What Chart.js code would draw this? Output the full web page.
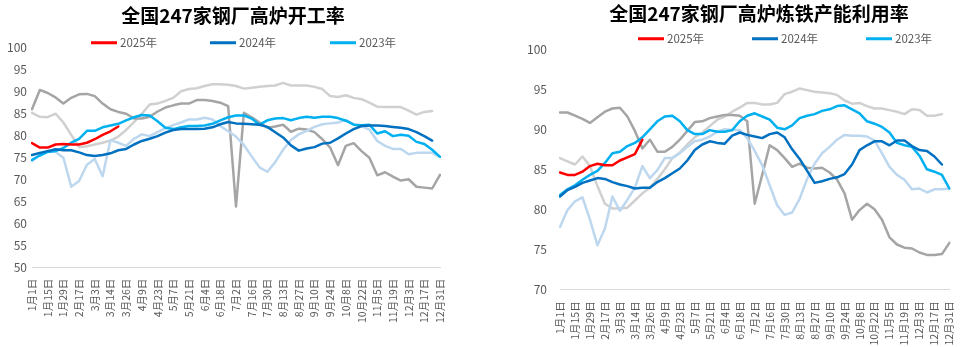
<!DOCTYPE html>
<html lang="zh-CN">
<head>
<meta charset="utf-8">
<title>全国247家钢厂高炉开工率 / 高炉炼铁产能利用率</title>
<script src="https://cdn.jsdelivr.net/npm/chart.js@4.4.1/dist/chart.umd.min.js"></script>
<style>
html,body{margin:0;padding:0;background:#fff;}
body{width:974px;height:347px;position:relative;overflow:hidden;font-family:"Noto Sans CJK SC","Noto Sans",sans-serif;}
.panel{position:absolute;top:0;width:487px;height:347px;}
#p1{left:0}
#p2{left:487px}
.panel canvas{position:absolute;left:0;top:0;}
.title{position:absolute;transform:translate(-50%,-50%);font-size:19px;font-weight:700;color:#000;white-space:nowrap;line-height:1;}
.leg{position:absolute;transform:translateY(-50%);display:flex;align-items:center;font-size:11.5px;color:#595959;white-space:nowrap;line-height:1;}
.leg i{display:inline-block;width:26px;height:3px;margin-right:3px;}
</style>
</head>
<body>
<div class="panel" id="p1">
  <canvas id="c1" width="487" height="347"></canvas>
  <div class="title" style="left:233px;top:14px">全国247家钢厂高炉开工率</div>
</div>
<div class="panel" id="p2">
  <canvas id="c2" width="487" height="347"></canvas>
  <div class="title" style="left:272px;top:12px">全国247家钢厂高炉炼铁产能利用率</div>
</div>
<script>
// ---------- tick labels (one every second weekly point) ----------
const tickLabels = ['1月1日','1月15日','1月29日','2月17日','3月3日','3月14日','3月26日','4月9日','4月23日','5月7日','5月21日','6月4日','6月18日','7月2日','7月16日','7月30日','8月13日','8月27日','9月10日','9月24日','10月8日','10月22日','11月5日','11月19日','12月3日','12月17日','12月31日'];

const seriesNames = ['2025年','2024年','2023年','2022年','2021年','2020年'];

// ---------- 高炉开工率 (%) ----------
const kg2025 = [78.3, 77.3, 77.3, 78.0, 78.1, 78.0, 78.0, 78.4, 79.2, 80.2, 81.0, 82.1];
const kg2024 = [75.6, 76.1, 76.5, 76.9, 76.7, 76.7, 76.2, 75.6, 75.4, 75.6, 76.0, 76.7, 77.0, 78.0, 78.8, 79.3, 79.9, 80.7, 81.3, 81.5, 81.5, 81.5, 81.6, 81.9, 82.6, 83.1, 82.8, 82.7, 82.6, 82.5, 82.0, 80.8, 79.6, 77.8, 76.6, 77.1, 77.4, 78.2, 78.4, 79.4, 80.5, 81.5, 82.2, 82.3, 82.3, 82.2, 82.0, 81.8, 81.5, 80.8, 79.9, 78.9];
const kg2023 = [74.5, 75.5, 76.3, 76.5, 77.2, 78.4, 79.3, 81.1, 81.1, 81.9, 82.3, 82.7, 83.5, 84.2, 84.7, 84.6, 83.3, 81.8, 81.5, 81.9, 82.2, 82.2, 82.3, 82.7, 83.5, 84.2, 84.6, 84.6, 83.9, 82.5, 83.5, 83.9, 84.0, 83.5, 84.0, 84.3, 84.1, 84.3, 84.3, 84.0, 83.4, 82.5, 82.4, 82.5, 80.5, 81.0, 79.9, 80.2, 80.0, 78.6, 78.1, 76.8, 75.2];
const kg2022 = [74.2, 75.8, 76.6, 76.3, 75.0, 68.4, 69.7, 73.4, 74.7, 70.8, 79.0, 78.4, 77.7, 79.3, 80.3, 79.9, 80.8, 81.7, 82.4, 83.0, 83.7, 83.7, 84.1, 83.7, 82.2, 81.0, 79.8, 77.9, 75.3, 72.8, 71.8, 74.0, 76.8, 79.0, 80.3, 81.1, 82.0, 82.6, 82.8, 83.0, 83.6, 82.6, 82.2, 81.4, 78.8, 77.7, 77.0, 77.0, 75.8, 76.1, 76.1, 76.1, 75.2];
const kg2021 = [86.0, 90.4, 89.7, 88.7, 87.3, 88.6, 89.4, 89.5, 89.0, 87.3, 86.0, 85.4, 85.0, 83.9, 83.9, 84.3, 85.5, 86.4, 86.9, 87.3, 87.3, 88.1, 88.1, 87.9, 87.5, 86.7, 63.9, 85.2, 84.2, 83.0, 81.8, 82.1, 82.5, 80.9, 81.6, 81.4, 80.8, 79.2, 77.3, 73.3, 77.7, 78.3, 76.5, 75.0, 71.0, 71.7, 70.7, 69.8, 70.1, 68.4, 68.2, 68.0, 71.1];
const kg2020 = [85.2, 84.3, 84.2, 85.0, 83.0, 80.2, 77.4, 77.6, 78.0, 78.4, 78.9, 79.8, 81.3, 83.1, 85.0, 87.1, 87.3, 87.9, 88.6, 90.1, 90.6, 90.8, 91.3, 91.7, 91.7, 91.6, 91.3, 90.7, 90.9, 91.1, 91.3, 91.4, 92.0, 91.4, 91.4, 91.4, 91.1, 90.6, 89.0, 88.8, 89.2, 88.6, 88.3, 87.5, 86.6, 86.5, 86.5, 86.5, 85.7, 84.8, 85.4, 85.6];

// ---------- 高炉炼铁产能利用率 (%) ----------
const ly2025 = [84.6, 84.3, 84.3, 84.7, 85.4, 85.7, 85.5, 85.5, 86.1, 86.5, 86.9, 88.7];
const ly2024 = [81.6, 82.4, 82.8, 83.3, 83.6, 83.9, 83.8, 83.4, 83.1, 82.9, 82.6, 82.7, 82.7, 83.4, 83.9, 84.5, 85.1, 86.1, 87.4, 88.1, 88.5, 88.3, 88.2, 89.2, 89.6, 89.3, 89.1, 88.9, 89.4, 89.6, 89.0, 87.5, 86.3, 84.8, 83.3, 83.5, 83.8, 84.0, 84.4, 85.6, 87.4, 88.0, 88.5, 88.5, 88.0, 88.6, 88.6, 87.9, 87.4, 87.3, 86.6, 85.6];
const ly2023 = [81.8, 82.5, 83.0, 83.7, 84.3, 84.8, 85.8, 87.0, 87.2, 87.9, 88.3, 89.0, 90.0, 91.0, 91.6, 91.7, 91.0, 89.9, 89.4, 89.4, 89.9, 89.7, 89.7, 89.9, 91.0, 91.7, 92.0, 91.6, 91.2, 90.2, 90.0, 90.5, 91.4, 91.7, 91.9, 92.3, 92.5, 92.9, 93.0, 92.5, 92.0, 91.0, 90.7, 90.3, 89.6, 88.3, 88.0, 87.8, 86.7, 85.0, 84.7, 84.3, 82.6];
const ly2022 = [77.8, 79.9, 81.0, 81.5, 78.7, 75.5, 77.6, 81.6, 79.8, 81.2, 82.7, 85.4, 83.9, 84.9, 86.4, 86.4, 87.0, 87.8, 88.5, 88.7, 89.1, 89.7, 90.0, 89.9, 89.9, 88.9, 87.3, 85.5, 83.0, 80.5, 79.3, 79.6, 81.3, 83.8, 85.7, 87.0, 87.8, 88.7, 89.3, 89.2, 89.2, 89.1, 88.6, 87.0, 85.3, 84.3, 83.7, 82.5, 82.6, 82.1, 82.5, 82.5, 82.6];
const ly2021 = [92.1, 92.1, 91.7, 91.3, 90.8, 91.5, 92.2, 92.6, 92.7, 91.6, 89.8, 87.6, 88.7, 87.2, 87.2, 87.8, 88.7, 89.8, 90.9, 91.0, 91.4, 91.6, 91.8, 91.8, 91.7, 91.0, 80.7, 84.3, 88.0, 87.4, 86.4, 85.3, 85.7, 85.2, 85.1, 85.2, 84.6, 83.7, 82.0, 78.7, 79.9, 80.7, 80.0, 78.7, 76.5, 75.6, 75.2, 75.1, 74.6, 74.3, 74.3, 74.4, 75.8];
const ly2020 = [86.4, 86.0, 85.6, 86.6, 85.4, 82.9, 80.7, 80.1, 80.1, 80.2, 81.1, 82.0, 82.7, 83.8, 85.0, 86.4, 87.1, 88.1, 89.0, 89.6, 90.4, 91.2, 91.6, 92.2, 92.7, 93.3, 93.3, 93.1, 93.1, 93.3, 94.4, 94.7, 95.1, 94.9, 94.7, 94.6, 94.5, 94.3, 93.6, 93.2, 93.3, 92.9, 92.6, 92.6, 92.4, 92.2, 91.9, 92.5, 92.4, 91.7, 91.7, 91.9];

const seriesColors = ['#FF0000', '#0070C0', '#00B0F0', '#BDD7EE', '#A5A5A5', '#D0D0D0'];
const legendCount = 3;

// weekly categories: a tick label on every second week
const categories = [];
for (let k = 0; k < tickLabels.length; k++) {
  categories.push(tickLabels[k]);
  if (k < tickLabels.length - 1) categories.push('');
}

const FONT = '"Noto Sans CJK SC", "Noto Sans", sans-serif';

function addLegend(panel, xs, y) {
  for (let i = 0; i < legendCount; i++) {
    const d = document.createElement('div');
    d.className = 'leg';
    d.style.left = xs[i] + 'px';
    d.style.top = y + 'px';
    const sw = document.createElement('i');
    sw.style.background = seriesColors[i];
    d.appendChild(sw);
    d.appendChild(document.createTextNode(seriesNames[i]));
    panel.appendChild(d);
  }
}

function makeChart(canvasId, seriesData, yMin, yMax, geo) {
  const datasets = seriesData.map((arr, i) => ({
    label: seriesNames[i],
    data: arr,
    borderColor: seriesColors[i],
    backgroundColor: seriesColors[i],
    borderWidth: 2.5,
    pointRadius: 0,
    pointHoverRadius: 0,
    tension: 0,
    fill: false,
    borderJoinStyle: 'round',
    borderCapStyle: 'round'
  }));
  return new Chart(document.getElementById(canvasId), {
    type: 'line',
    data: { labels: categories, datasets },
    options: {
      responsive: false,
      animation: false,
      devicePixelRatio: 1,
      events: [],
      layout: { padding: { left: 0, top: geo.top, right: geo.right, bottom: 0 } },
      plugins: { legend: { display: false }, title: { display: false }, tooltip: { enabled: false } },
      scales: {
        x: {
          type: 'category',
          offset: false,
          grid: { display: false, drawTicks: false },
          border: { display: true, color: '#D9D9D9', width: 1 },
          ticks: { autoSkip: false, maxRotation: 90, minRotation: 90, padding: geo.xPad, color: '#595959', font: { family: FONT, size: 10.5 } },
          afterFit: (s) => { s.height = geo.xHeight; }
        },
        y: {
          min: yMin,
          max: yMax,
          grid: { display: false, drawTicks: false },
          border: { display: false },
          ticks: { stepSize: 5, padding: geo.yPad, color: '#595959', font: { family: FONT, size: 12 } },
          afterFit: (s) => { s.width = geo.yWidth; }
        }
      }
    }
  });
}

makeChart('c1', [kg2025, kg2024, kg2023, kg2022, kg2021, kg2020], 50, 100,
  { top: 47.7, right: 47, xHeight: 79.3, yWidth: 32, xPad: 11, yPad: 5 });
makeChart('c2', [ly2025, ly2024, ly2023, ly2022, ly2021, ly2020], 70, 100,
  { top: 49.3, right: 13, xHeight: 57.7, yWidth: 73, xPad: 12, yPad: 13 });

addLegend(document.getElementById('p1'), [91, 210, 330], 43);
addLegend(document.getElementById('p2'), [151, 265, 379], 39);
</script>
</body>
</html>
